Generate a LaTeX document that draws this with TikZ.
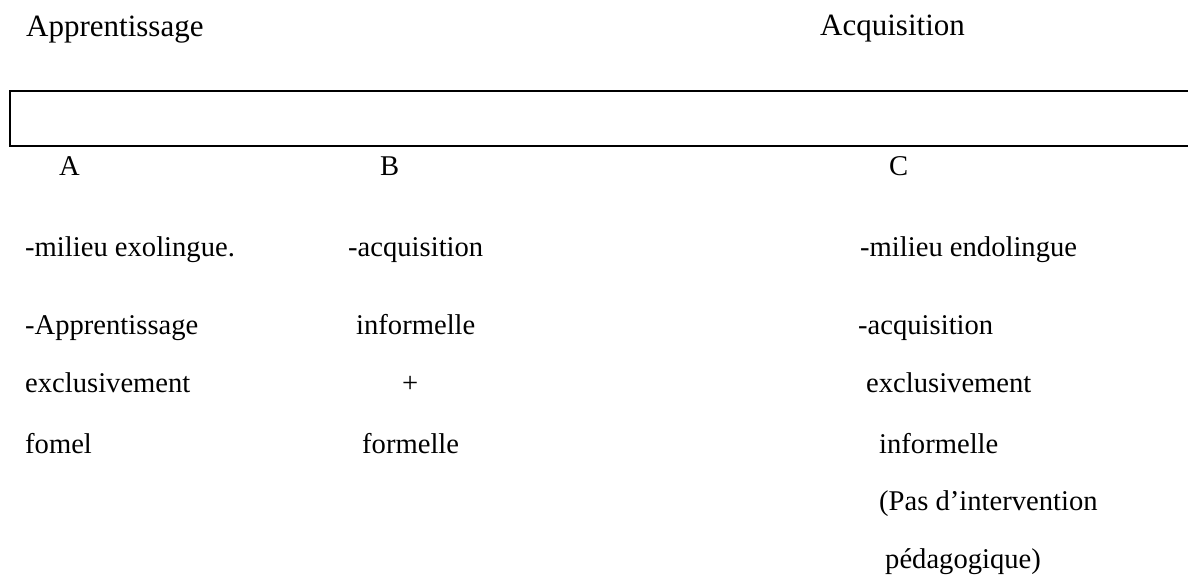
\documentclass[tikz,border=0pt]{standalone}
\usepackage{fontspec}
\setmainfont{Liberation Serif}
\begin{document}
\begin{tikzpicture}[x=1pt,y=-1pt,
  head/.style={anchor=base west,inner sep=0pt,font=\fontsize{31}{36}\selectfont},
  body/.style={anchor=base west,inner sep=0pt,font=\fontsize{28.6}{34}\selectfont}]
\useasboundingbox (0,0) rectangle (1188,580);
% titles
\node[head] (appr) at (26,37) {Apprentissage};
\node[head] (acq) at (820,36) {Acquisition};
% open box
\draw[line width=1.4pt] (1190,91) -- (10,91) -- (10,146.5);
\draw[line width=2.2pt] (9.3,146) -- (1190,146);
% column letters
\node[body] (lA) at (59,176) {A};
\node[body] (lB) at (380,176) {B};
\node[body] (lC) at (889,176) {C};
% column A
\node[body] (a1) at (25,256) {-milieu exolingue.};
\node[body] (a2) at (25,334) {-Apprentissage};
\node[body] (a3) at (25,392) {exclusivement};
\node[body] (a4) at (25,453) {fomel};
% column B
\node[body] (b1) at (348,256) {-acquisition};
\node[body] (b2) at (356,334) {informelle};
\node[body] (b3) at (402,392) {+};
\node[body] (b4) at (362,453) {formelle};
% column C
\node[body] (c1) at (860,256) {-milieu endolingue};
\node[body] (c2) at (858,334) {-acquisition};
\node[body] (c3) at (866,392) {exclusivement};
\node[body] (c4) at (879,453) {informelle};
\node[body] (c5) at (879,510) {(Pas d’intervention};
\node[body] (c6) at (885,568) {pédagogique)};
\end{tikzpicture}
\end{document}
